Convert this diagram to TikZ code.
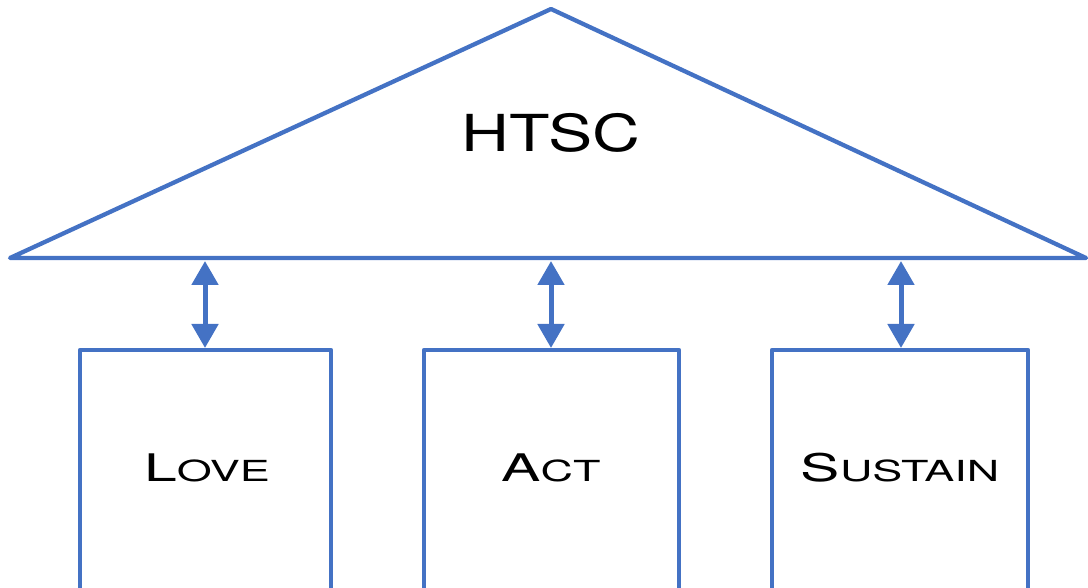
\documentclass[tikz,border=0pt]{standalone}
\usepackage{fontspec}
\setmainfont[FakeStretch=1.3]{TeX Gyre Heros}
\newfontfamily\widefont[FakeStretch=1.55]{TeX Gyre Heros}
\usetikzlibrary{arrows.meta}
\definecolor{bl}{HTML}{4472C4}
\newcommand{\fsc}[2]{{\widefont\fontsize{38}{40}\selectfont #1}{\widefont\fontsize{29}{30}\selectfont #2}}
\tikzset{
  shape line/.style={draw=bl, line width=4.3pt, line join=round, line cap=round},
  dbl/.style={draw=bl, line width=5pt, {Triangle[length=24pt,width=26pt]}-{Triangle[length=24pt,width=26pt]}},
  lbl/.style={text=black, inner sep=0pt}
}
\begin{document}
\begin{tikzpicture}[x=1pt,y=-1pt]
\useasboundingbox (0,0) rectangle (1088,588);
\clip (0,0) rectangle (1088,588);
\coordinate (apex) at (551,9);
\coordinate (bl) at (10,258);
\coordinate (br) at (1086,258);
\draw[shape line] (bl) -- (apex) -- (br) -- cycle;
\node[lbl] (htsc) at (551,133) {\fontsize{51}{54}\selectfont HTSC};
% boxes
\draw[shape line] (80,600) -- (80,350) -- (331,350) -- (331,600);
\draw[shape line] (424,600) -- (424,350) -- (679,350) -- (679,600);
\draw[shape line] (772,600) -- (772,350) -- (1028,350) -- (1028,600);
\node[lbl] (love) at (207,468) {\fsc{L}{OVE}};
\node[lbl] (act) at (551,468) {\fsc{A}{CT}};
\node[lbl] (sus) at (900,468) {\fsc{S}{USTAIN}};
\coordinate (a1t) at (205,261); \coordinate (a1b) at (205,348);
\coordinate (a2t) at (551,261); \coordinate (a2b) at (551,348);
\coordinate (a3t) at (901,261); \coordinate (a3b) at (901,348);
\draw[dbl] (a1t) -- (a1b);
\draw[dbl] (a2t) -- (a2b);
\draw[dbl] (a3t) -- (a3b);
\end{tikzpicture}
\end{document}
